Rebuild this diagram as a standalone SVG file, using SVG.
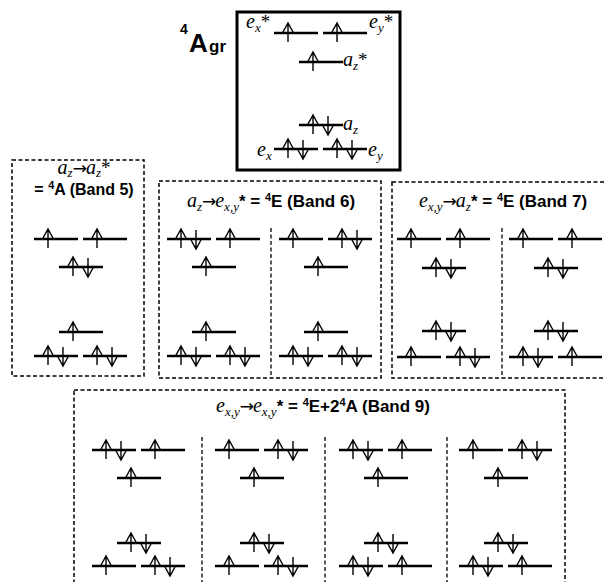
<svg xmlns="http://www.w3.org/2000/svg" width="605" height="582" viewBox="0 0 605 582">
<style>
.lv{fill:none;stroke:#000;stroke-width:2.5}
.ar{fill:none;stroke:#000;stroke-width:1.4}
.box{fill:none;stroke:#000;stroke-width:1.5;stroke-dasharray:4 2.5}
.div{fill:none;stroke:#000;stroke-width:1.3;stroke-dasharray:4 2.5}
.it{font-family:"Liberation Serif","Times New Roman",serif;font-style:italic;font-size:20px}
.sb{font-size:13px}
.rm{font-family:"Liberation Serif","Times New Roman",serif;font-style:normal;font-size:19px}
.arw{font-family:"DejaVu Sans",sans-serif;font-style:normal;font-size:17px}
.bd{font-family:"Liberation Sans",Arial,sans-serif;font-weight:bold;font-size:17px}
.sp{font-size:11px}
text{fill:#000}
</style>
<defs>
<path id="u" class="ar" d="M0,9V-10M-5.5,0L0,-10L5.5,0"/>
<path id="d" class="ar" d="M0,-9V10M-5.5,0L0,10L5.5,0"/>
</defs>

<!-- ground state -->
<g id="ground">
<rect x="237" y="12" width="163" height="158" fill="none" stroke="#000" stroke-width="3"/>
<text class="bd" x="180" y="34" style="font-size:14px">4</text>
<text class="bd" x="189" y="52" style="font-size:26px">A</text>
<text class="bd" x="209" y="52" style="font-size:17px">gr</text>
<g transform="translate(274,0)">
<path class="lv" d="M0,33h44M49,33h44M25,62h44M25,125h44M0,149h44M49,149h44"/>
<use href="#u" x="14" y="33"/><use href="#u" x="63" y="33"/>
<use href="#u" x="39" y="62"/>
<use href="#u" x="39" y="125"/><use href="#d" x="54" y="125"/>
<use href="#u" x="14" y="149"/><use href="#d" x="29" y="149"/>
<use href="#u" x="63" y="149"/><use href="#d" x="78" y="149"/>
</g>
<text x="246" y="28"><tspan class="it">e</tspan><tspan class="it sb" dy="4">x</tspan><tspan class="rm" dy="-4">*</tspan></text>
<text x="369" y="28"><tspan class="it">e</tspan><tspan class="it sb" dy="4">y</tspan><tspan class="rm" dy="-4">*</tspan></text>
<text x="343" y="66"><tspan class="it">a</tspan><tspan class="it sb" dy="4">z</tspan><tspan class="rm" dy="-4">*</tspan></text>
<text x="343" y="130"><tspan class="it">a</tspan><tspan class="it sb" dy="4">z</tspan></text>
<text x="257" y="156"><tspan class="it">e</tspan><tspan class="it sb" dy="4">x</tspan></text>
<text x="368" y="156"><tspan class="it">e</tspan><tspan class="it sb" dy="4">y</tspan></text>
</g>

<!-- Band 5 -->
<g id="band5">
<rect class="box" x="12" y="160" width="132" height="216"/>
<text x="84" y="174" text-anchor="middle"><tspan class="it">a</tspan><tspan class="it sb" dy="3">z</tspan><tspan class="arw" dy="-3">→</tspan><tspan class="it" dx="-1">a</tspan><tspan class="it sb" dy="3">z</tspan><tspan class="rm" dy="-3">*</tspan></text>
<text x="84" y="195" text-anchor="middle" class="bd" style="font-size:16px">= <tspan class="sp" dy="-6">4</tspan><tspan dy="6">A (Band 5)</tspan></text>
<g transform="translate(34,0)">
<path class="lv" d="M0,239h44M49,239h44M25,267h44M25,332h44M0,356h44M49,356h44"/>
<use href="#u" x="14" y="239"/><use href="#u" x="63" y="239"/>
<use href="#u" x="39" y="267"/><use href="#d" x="54" y="267"/>
<use href="#u" x="39" y="332"/>
<use href="#u" x="14" y="356"/><use href="#d" x="29" y="356"/>
<use href="#u" x="63" y="356"/><use href="#d" x="78" y="356"/>
</g>
</g>

<!-- Band 6 -->
<g id="band6">
<rect class="box" x="159" y="181" width="222" height="197"/>
<text x="271" y="207" text-anchor="middle"><tspan class="it">a</tspan><tspan class="it sb" dy="4">z</tspan><tspan class="arw" dy="-4">→</tspan><tspan class="it" dx="-1">e</tspan><tspan class="it sb" dy="4">x,y</tspan><tspan class="bd" dy="-4">* = </tspan><tspan class="bd sp" dy="-6">4</tspan><tspan class="bd" dy="6">E (Band 6)</tspan></text>
<path class="div" d="M271,228V378"/>
<g id="b6l" transform="translate(167,0)">
<path class="lv" d="M0,239h44M49,239h44M25,267h44M25,332h44M0,356h44M49,356h44"/>
<use href="#u" x="14" y="239"/><use href="#d" x="29" y="239"/><use href="#u" x="63" y="239"/>
<use href="#u" x="39" y="267"/>
<use href="#u" x="39" y="332"/>
<use href="#u" x="14" y="356"/><use href="#d" x="29" y="356"/>
<use href="#u" x="63" y="356"/><use href="#d" x="78" y="356"/>
</g>
<g id="b6r" transform="translate(279,0)">
<path class="lv" d="M0,239h44M49,239h44M25,267h44M25,332h44M0,356h44M49,356h44"/>
<use href="#u" x="14" y="239"/><use href="#u" x="63" y="239"/><use href="#d" x="78" y="239"/>
<use href="#u" x="39" y="267"/>
<use href="#u" x="39" y="332"/>
<use href="#u" x="14" y="356"/><use href="#d" x="29" y="356"/>
<use href="#u" x="63" y="356"/><use href="#d" x="78" y="356"/>
</g>
</g>

<!-- Band 7 -->
<g id="band7">
<rect class="box" x="392" y="182" width="222" height="196"/>
<text x="503" y="207" text-anchor="middle"><tspan class="it">e</tspan><tspan class="it sb" dy="4">x,y</tspan><tspan class="arw" dy="-4">→</tspan><tspan class="it" dx="-1">a</tspan><tspan class="it sb" dy="4">z</tspan><tspan class="bd" dy="-4">* = </tspan><tspan class="bd sp" dy="-6">4</tspan><tspan class="bd" dy="6">E (Band 7)</tspan></text>
<path class="div" d="M502,228V378"/>
<g id="b7l" transform="translate(397,0)">
<path class="lv" d="M0,239h44M49,239h44M25,268h44M25,331h44M0,357h44M49,357h44"/>
<use href="#u" x="14" y="239"/><use href="#u" x="63" y="239"/>
<use href="#u" x="39" y="268"/><use href="#d" x="54" y="268"/>
<use href="#u" x="39" y="331"/><use href="#d" x="54" y="331"/>
<use href="#u" x="14" y="357"/>
<use href="#u" x="63" y="357"/><use href="#d" x="78" y="357"/>
</g>
<g id="b7r" transform="translate(509,0)">
<path class="lv" d="M0,239h44M49,239h44M25,268h44M25,331h44M0,357h44M49,357h44"/>
<use href="#u" x="14" y="239"/><use href="#u" x="63" y="239"/>
<use href="#u" x="39" y="268"/><use href="#d" x="54" y="268"/>
<use href="#u" x="39" y="331"/><use href="#d" x="54" y="331"/>
<use href="#u" x="14" y="357"/><use href="#d" x="29" y="357"/>
<use href="#u" x="63" y="357"/>
</g>
</g>

<!-- Band 9 -->
<g id="band9">
<rect class="box" x="74" y="390" width="491" height="220"/>
<text x="323" y="412" text-anchor="middle"><tspan class="it">e</tspan><tspan class="it sb" dy="4">x,y</tspan><tspan class="arw" dy="-4">→</tspan><tspan class="it" dx="-1">e</tspan><tspan class="it sb" dy="4">x,y</tspan><tspan class="bd" dy="-4">* = </tspan><tspan class="bd sp" dy="-6">4</tspan><tspan class="bd" dy="6">E+2</tspan><tspan class="bd sp" dy="-6">4</tspan><tspan class="bd" dy="6">A (Band 9)</tspan></text>
<path class="div" d="M202,437V582M325,437V582M447,437V582"/>
<g id="b9p1" transform="translate(92,0)">
<path class="lv" d="M0,450h44M49,450h44M25,478h44M25,543h44M0,566h44M49,566h44"/>
<use href="#u" x="14" y="450"/><use href="#d" x="29" y="450"/><use href="#u" x="63" y="450"/>
<use href="#u" x="39" y="478"/>
<use href="#u" x="39" y="543"/><use href="#d" x="54" y="543"/>
<use href="#u" x="14" y="566"/>
<use href="#u" x="63" y="566"/><use href="#d" x="78" y="566"/>
</g>
<g id="b9p2" transform="translate(215,0)">
<path class="lv" d="M0,450h44M49,450h44M25,478h44M25,543h44M0,566h44M49,566h44"/>
<use href="#u" x="14" y="450"/><use href="#u" x="63" y="450"/><use href="#d" x="78" y="450"/>
<use href="#u" x="39" y="478"/>
<use href="#u" x="39" y="543"/><use href="#d" x="54" y="543"/>
<use href="#u" x="14" y="566"/>
<use href="#u" x="63" y="566"/><use href="#d" x="78" y="566"/>
</g>
<g id="b9p3" transform="translate(339,0)">
<path class="lv" d="M0,450h44M49,450h44M25,478h44M25,543h44M0,566h44M49,566h44"/>
<use href="#u" x="14" y="450"/><use href="#d" x="29" y="450"/><use href="#u" x="63" y="450"/>
<use href="#u" x="39" y="478"/>
<use href="#u" x="39" y="543"/><use href="#d" x="54" y="543"/>
<use href="#u" x="14" y="566"/><use href="#d" x="29" y="566"/>
<use href="#u" x="63" y="566"/>
</g>
<g id="b9p4" transform="translate(459,0)">
<path class="lv" d="M0,450h44M49,450h44M25,478h44M25,543h44M0,566h44M49,566h44"/>
<use href="#u" x="14" y="450"/><use href="#u" x="63" y="450"/><use href="#d" x="78" y="450"/>
<use href="#u" x="39" y="478"/>
<use href="#u" x="39" y="543"/><use href="#d" x="54" y="543"/>
<use href="#u" x="14" y="566"/><use href="#d" x="29" y="566"/>
<use href="#u" x="63" y="566"/>
</g>
</g>
<g id="connectors"/>
</svg>
